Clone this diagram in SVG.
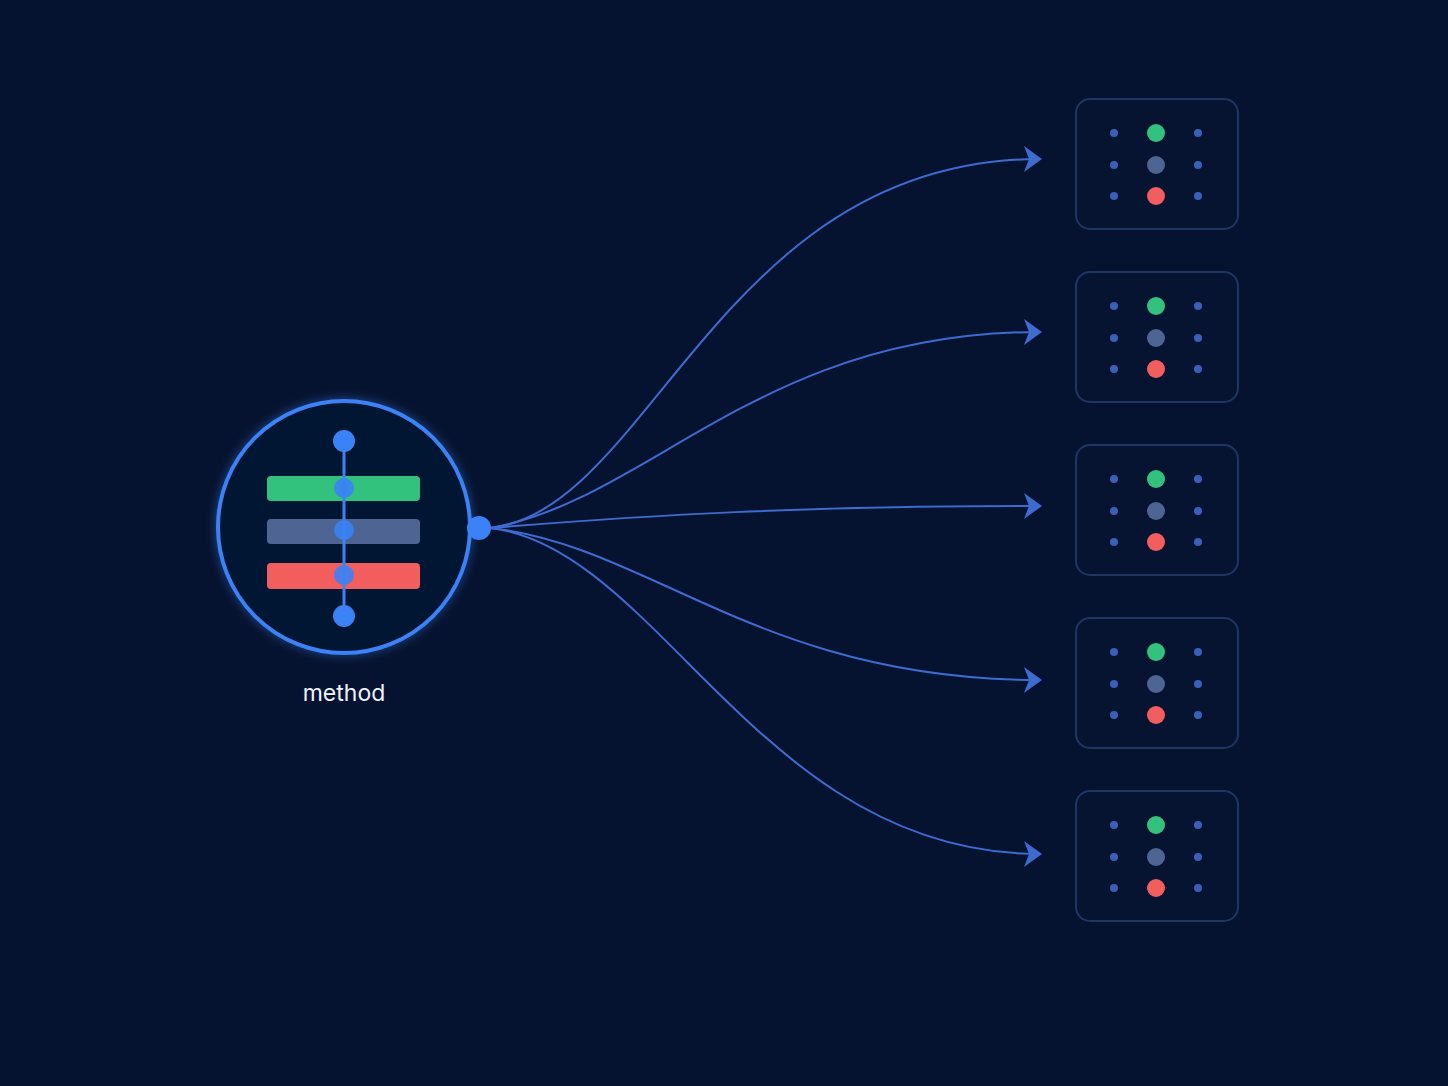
<svg xmlns="http://www.w3.org/2000/svg" width="1448" height="1086" viewBox="0 0 1448 1086">
<defs>
<style>
.edge{fill:none;stroke:#3d6bd0;stroke-width:2}
.box{fill:#061432;stroke:#1f3562;stroke-width:2}
.sd{fill:#3a5fb8}
.g{fill:#33c27d}
.m{fill:#4e6492}
.r{fill:#f25e5e}
.node{fill:#3b82f6}
.lbl{font-family:Inter,"Liberation Sans",sans-serif;font-size:23px;fill:#eef2ff;text-anchor:middle}
</style>
<marker id="ah" markerUnits="userSpaceOnUse" markerWidth="20" markerHeight="28" viewBox="0 0 20 28" refX="16" refY="13" orient="auto">
<path d="M0,0 L18,13 L0,26 L5,13 Z" fill="#3d6bd0"/>
</marker>
<filter id="glow" x="-30%" y="-30%" width="160%" height="160%">
<feGaussianBlur stdDeviation="5" result="b"/>
<feComponentTransfer in="b" result="b2"><feFuncA type="linear" slope="0.6"/></feComponentTransfer>
<feMerge><feMergeNode in="b2"/><feMergeNode in="SourceGraphic"/></feMerge>
</filter>
<g id="cell">
<rect class="box" x="0" y="0" width="162" height="130" rx="14"/>
<circle class="sd" cx="38" cy="34" r="4"/><circle class="sd" cx="122" cy="34" r="4"/>
<circle class="sd" cx="38" cy="66" r="4"/><circle class="sd" cx="122" cy="66" r="4"/>
<circle class="sd" cx="38" cy="97" r="4"/><circle class="sd" cx="122" cy="97" r="4"/>
<circle class="g" cx="80" cy="34" r="9"/>
<circle class="m" cx="80" cy="66" r="9"/>
<circle class="r" cx="80" cy="97" r="9"/>
</g>
</defs>
<rect width="1448" height="1086" fill="#061330"/>
<g id="connectors">
<path class="edge" marker-end="url(#ah)" d="M490,528 C650,512 720,159 1040,159"/>
<path class="edge" marker-end="url(#ah)" d="M490,528 C650,500 760,332 1040,332"/>
<path class="edge" marker-end="url(#ah)" d="M490,528 C650,515 800,506 1040,506"/>
<path class="edge" marker-end="url(#ah)" d="M490,528 C650,545 760,680 1040,680"/>
<path class="edge" marker-end="url(#ah)" d="M490,528 C660,548 760,854 1040,854"/>
</g>
<g id="method">
<circle cx="344" cy="527" r="126" fill="#061432" stroke="#3b82f6" stroke-width="4" filter="url(#glow)"/>
<rect x="267" y="476" width="153" height="25" rx="4" fill="#33c27d"/>
<rect x="267" y="519" width="153" height="25" rx="4" fill="#4e6492"/>
<rect x="267" y="563" width="153" height="26" rx="4" fill="#f25e5e"/>
<line x1="344" y1="441" x2="344" y2="616" stroke="#3b82f6" stroke-width="3"/>
<circle class="node" cx="344" cy="441" r="11"/>
<circle class="node" cx="344" cy="488" r="10" opacity="0.9"/>
<circle class="node" cx="344" cy="530" r="10" opacity="0.9"/>
<circle class="node" cx="344" cy="575" r="10" opacity="0.9"/>
<circle class="node" cx="344" cy="616" r="11"/>
<circle class="node" cx="479" cy="528" r="12"/>
<text class="lbl" x="344" y="701">method</text>
</g>
<g id="out1"><use href="#cell" x="1076" y="99"/></g>
<g id="out2"><use href="#cell" x="1076" y="272"/></g>
<g id="out3"><use href="#cell" x="1076" y="445"/></g>
<g id="out4"><use href="#cell" x="1076" y="618"/></g>
<g id="out5"><use href="#cell" x="1076" y="791"/></g>
</svg>
